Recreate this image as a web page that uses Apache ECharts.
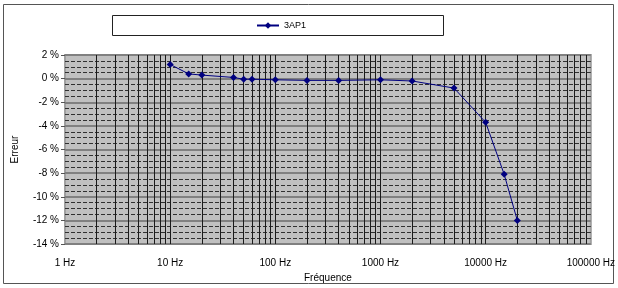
<!DOCTYPE html>
<html>
<head>
    <meta charset="utf-8">
    <title>3AP1</title>
    <script src="https://cdn.jsdelivr.net/npm/echarts@6/dist/echarts.min.js"></script>
</head>
<body style="margin:0">
<div id="main" style="width: 618px;height: 288px;"></div>
<script type="text/javascript">
    // frequencies (Hz) and error (%)
    var freq = [10, 15, 20, 40, 50, 60, 100, 200, 400, 1000, 2000, 5000, 10000, 15000, 20000];
    var erreur = [1.2, 0.4, 0.3, 0.1, -0.05, -0.05, -0.1, -0.15, -0.15, -0.1, -0.2, -0.8, -3.7, -8.1, -12.0];
    var yTicks = [2, 0, -2, -4, -6, -8, -10, -12, -14];

    var points = [];
    for (var i = 0; i < freq.length; i++) {
        points.push([freq[i], erreur[i]]);
    }

    // vertical log grid: 1..9 x each decade
    var vLines = [];
    for (var d = 1; d <= 10000; d *= 10) {
        for (var m = 1; m <= 9; m++) {
            if (d * m > 1) vLines.push({xAxis: d * m});
        }
    }

    var chart = echarts.init(document.getElementById('main'));
    var font = 'Liberation Sans, Arial, sans-serif';

    var option = {
        animation: false,
        backgroundColor: '#fff',
        graphic: [
            {type: 'rect', shape: {x: 3.5, y: 4.5, width: 610, height: 279}, style: {fill: 'none', stroke: '#555', lineWidth: 1}, z: -1},
            {type: 'rect', shape: {x: 112.5, y: 15.5, width: 331, height: 20}, style: {fill: '#fff', stroke: '#222', lineWidth: 1}, z: -1}
        ],
        legend: {
            left: 251,
            top: 16,
            itemWidth: 22,
            itemHeight: 8,
            itemGap: 4,
            textStyle: {fontFamily: font, fontSize: 9, color: '#000'},
            data: ['3AP1']
        },
        grid: {
            left: 65, right: 27, top: 55, bottom: 44,
            show: true,
            backgroundColor: '#c0c0c0',
            borderColor: '#a0a0a0',
            borderWidth: 2
        },
        xAxis: {
            type: 'log',
            logBase: 10,
            min: 1,
            max: 100000,
            name: 'Fréquence',
            nameLocation: 'middle',
            nameGap: 26,
            nameTextStyle: {fontFamily: font, fontSize: 10, color: '#000'},
            axisLine: {show: false},
            axisTick: {show: false},
            splitLine: {show: false},
            axisLabel: {
                fontFamily: font, fontSize: 10, color: '#000', margin: 14,
                formatter: function (v) { return v + ' Hz'; }
            }
        },
        yAxis: {
            type: 'value',
            min: -14,
            max: 2,
            interval: 2,
            name: 'Erreur',
            nameLocation: 'middle',
            nameGap: 45,
            nameTextStyle: {fontFamily: font, fontSize: 10, color: '#000'},
            axisLine: {show: false},
            axisTick: {show: true, length: 4, lineStyle: {color: '#555'}},
            axisLabel: {
                fontFamily: font, fontSize: 10, color: '#000', margin: 6,
                formatter: function (v) { return v + ' %'; }
            },
            splitLine: {show: true, lineStyle: {color: '#808080', width: 2}},
            minorTick: {show: false, splitNumber: 4},
            minorSplitLine: {show: true, lineStyle: {color: '#303030', width: 1, type: [4, 2]}}
        },
        series: [
            {
                name: 'grid',
                type: 'line',
                data: [],
                silent: true,
                z: 1,
                markLine: {
                    silent: true,
                    symbol: 'none',
                    label: {show: false},
                    lineStyle: {color: '#1a1a1a', width: 1, type: 'solid'},
                    data: vLines
                }
            },
            {
                name: '3AP1',
                type: 'line',
                z: 5,
                data: points,
                symbol: 'diamond',
                symbolSize: 7,
                showAllSymbol: true,
                color: '#000080',
                lineStyle: {color: '#000080', width: 1},
                itemStyle: {color: '#000080'}
            }
        ]
    };
    chart.setOption(option);
</script>
</body>
</html>
